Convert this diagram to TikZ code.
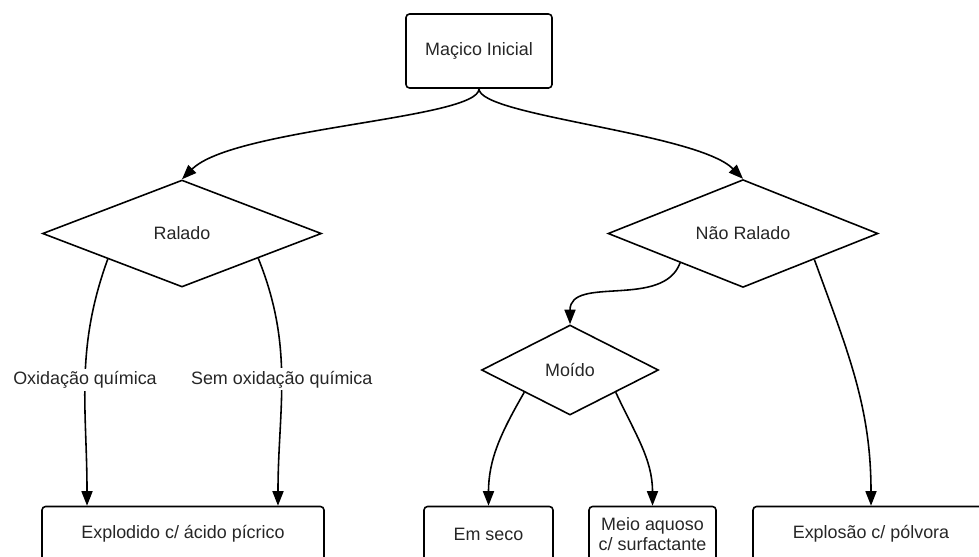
\documentclass[tikz,border=0pt]{standalone}
\usepackage{fontspec}
\setmainfont{Liberation Sans}
\usetikzlibrary{arrows.meta,shapes.geometric}

\begin{document}
\begin{tikzpicture}[x=0.02cm, y=0.02cm,
		every node/.style={font=\fontsize{10.2}{11.5}\selectfont, text=black!85},
		caixa/.style={draw, line width=0.9pt, rounded corners=0.7mm, align=center, inner sep=1pt},
		losango/.style={draw, diamond, line width=0.9pt, inner sep=0pt},
		seta/.style={line width=0.9pt, -{Triangle[length=2.9mm, width=2.2mm]}},
		rotulo/.style={fill=white, inner sep=1.5pt}]
			%%%%% START %%%%%
			
			\clip (0, 0) rectangle (979, -556);
			
			\node[caixa, minimum width=2.92cm, minimum height=1.48cm] (maco) at (479, -51) {Maçico Inicial};
			
			\node[losango, minimum width=5.58cm, minimum height=2.14cm] (ralado) at (182, -233.5) {Ralado};
			\node[losango, minimum width=5.4cm, minimum height=2.14cm] (naoralado) at (743, -233.5) {Não Ralado};
			\node[losango, minimum width=3.54cm, minimum height=1.8cm] (moido) at (570, -370) {Moído};
			
			\node[caixa, minimum width=5.64cm, minimum height=1.1cm] (explodido) at (183, -534) {Explodido c/ ácido pícrico};
			\node[caixa, minimum width=2.58cm, minimum height=1.1cm] (emseco) at (488.5, -534) {Em seco};
			\node[caixa, minimum width=2.54cm, minimum height=1.1cm] (meioaquoso) at (652.5, -534) {Meio aquoso\\c/ surfactante};
			\node[caixa, minimum width=4.72cm, minimum height=1.1cm] (explosao) at (871, -534) {Explosão c/ pólvora};
			
			\draw[seta] (maco.south) to[out=-90, in=45, out looseness=0.25, in looseness=0.6] (ralado.north);
			\draw[seta] (maco.south) to[out=-90, in=135, out looseness=0.25, in looseness=0.6] (naoralado.north);
			
			\draw[seta] (ralado.-161) to[out=-110, in=90] node[rotulo, pos=0.5] (oxi) {Oxidação química} ([xshift=-1.92cm]explodido.north);
			\draw[seta] (ralado.-18) to[out=-68, in=90] node[rotulo, pos=0.5] (semoxi) {Sem oxidação química} ([xshift=1.9cm]explodido.north);
			
			\draw[seta] (naoralado.-155) to[out=-110, in=90] (moido.north);
			\draw[seta] (naoralado.-20) to[out=-70, in=90] (explosao.north);
			
			\draw[seta] (moido.-154) to[out=-120, in=90] (emseco.north);
			\draw[seta] (moido.-26) to[out=-65, in=90] (meioaquoso.north);
			
			%%%%% END %%%%%
\end{tikzpicture}
\end{document}
